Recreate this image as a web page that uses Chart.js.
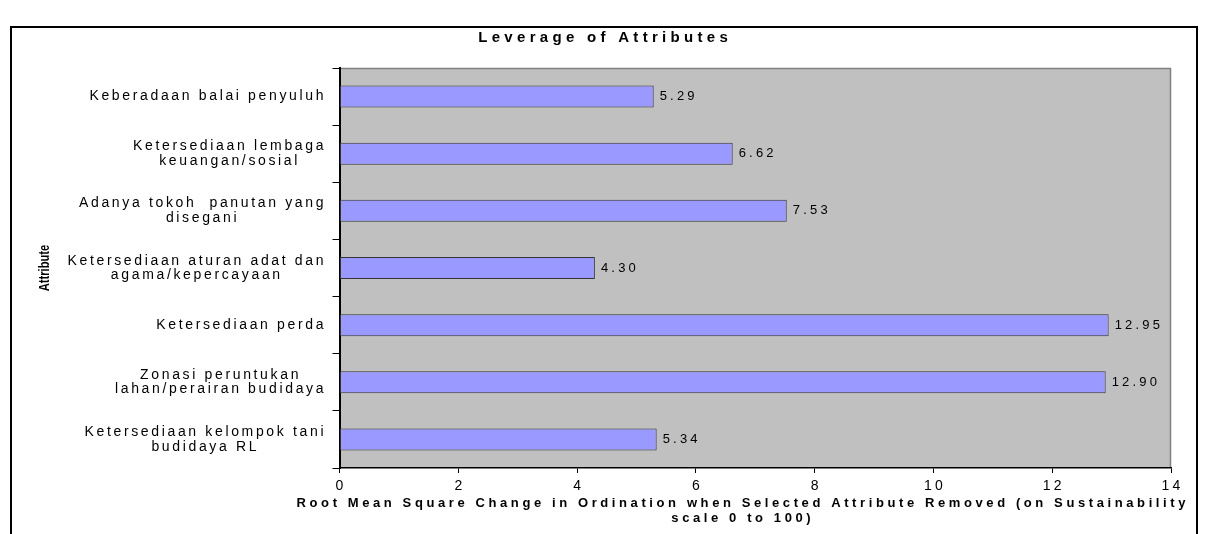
<!DOCTYPE html>
<html>
<head>
<meta charset="utf-8">
<script src="https://cdn.jsdelivr.net/npm/chart.js@4.4.0/dist/chart.umd.min.js"></script>
<style>
  html, body { margin: 0; padding: 0; background: #fff; }
  #wrap { width: 1211px; height: 534px; }
</style>
</head>
<body>
<div id="wrap"><canvas id="leverageChart" width="1211" height="534"></canvas></div>
<script>
// Chart data
const attributes = [
  ['Keberadaan balai penyuluh'],
  ['Ketersediaan lembaga', 'keuangan/sosial'],
  ['Adanya tokoh  panutan yang', 'disegani'],
  ['Ketersediaan aturan adat dan', 'agama/kepercayaan'],
  ['Ketersediaan perda'],
  ['Zonasi peruntukan', 'lahan/perairan budidaya'],
  ['Ketersediaan kelompok tani', 'budidaya RL']
];
const leverage = [5.29, 6.62, 7.53, 4.30, 12.95, 12.90, 5.34];
const xMin = 0;
const xMax = 14;
const xStep = 2;

const chartTitle = 'Leverage of Attributes';
const xTitle = ['Root Mean Square Change in Ordination when Selected Attribute Removed (on Sustainability', 'scale 0 to 100)'];
const yTitle = 'Attribute';

const FONT = '"Liberation Sans", Arial, sans-serif';

// draw text with letter spacing, trailing gap removed for alignment
function spacedText(ctx, str, x, y, align, spacing) {
  ctx.letterSpacing = spacing + 'px';
  const w = ctx.measureText(str).width - spacing;
  let sx = x;
  if (align === 'center') sx = x - w / 2;
  else if (align === 'right') sx = x - w;
  ctx.textAlign = 'left';
  ctx.fillText(str, sx, y);
  ctx.letterSpacing = '0px';
  return w;
}

// gray plot background + frame, outer chart border
const backdrop = {
  id: 'backdrop',
  beforeDraw(chart) {
    const { ctx, chartArea: a } = chart;
    ctx.save();
    ctx.fillStyle = '#C0C0C0';
    ctx.fillRect(a.left, a.top, a.right - a.left, a.bottom - a.top);
    ctx.strokeStyle = '#808080';
    ctx.lineWidth = 1.5;
    ctx.beginPath();
    ctx.moveTo(a.left, a.top + 0.5);
    ctx.lineTo(a.right - 0.5, a.top + 0.5);
    ctx.lineTo(a.right - 0.5, a.bottom);
    ctx.stroke();
    // outer border of the chart object
    ctx.strokeStyle = '#000';
    ctx.lineWidth = 2;
    ctx.strokeRect(11, 27, 1186, 530);
    ctx.restore();
  }
};

// all the texts
const texts = {
  id: 'texts',
  afterDraw(chart) {
    const { ctx, chartArea: a } = chart;
    const xs = chart.scales.x;
    const ys = chart.scales.y;
    ctx.save();
    ctx.fillStyle = '#000';
    ctx.textBaseline = 'middle';

    // title
    ctx.font = 'bold 15px ' + FONT;
    spacedText(ctx, chartTitle, 603, 38, 'center', 4.3);

    // category labels: block right aligned, lines centered inside block
    ctx.font = '14px ' + FONT;
    const sp = 2.65;
    attributes.forEach((lines, i) => {
      const cy = ys.getPixelForValue(i);
      ctx.letterSpacing = sp + 'px';
      const widths = lines.map(l => ctx.measureText(l).width - sp);
      const block = Math.max(...widths);
      const cx = a.left - 16 - block / 2;
      const lh = 14.5;
      const y0 = cy - (lines.length - 1) * lh / 2;
      lines.forEach((l, j) => spacedText(ctx, l, cx, y0 + j * lh, 'center', sp));
    });

    // x tick labels
    ctx.font = '14px ' + FONT;
    xs.ticks.forEach(t => {
      spacedText(ctx, String(t.value), xs.getPixelForValue(t.value), 486, 'center', 3.2);
    });

    // value labels at bar ends
    ctx.font = '13px ' + FONT;
    const meta = chart.getDatasetMeta(0);
    meta.data.forEach((bar, i) => {
      spacedText(ctx, leverage[i].toFixed(2), bar.x + 6, bar.y, 'left', 3.2);
    });

    // x axis title
    ctx.font = 'bold 13px ' + FONT;
    spacedText(ctx, xTitle[0], 741, 503, 'center', 3.6);
    spacedText(ctx, xTitle[1], 741, 518, 'center', 3.6);

    // y axis title, narrow bold
    ctx.translate(45, (a.top + a.bottom) / 2);
    ctx.rotate(-Math.PI / 2);
    ctx.scale(0.8, 1);
    ctx.font = 'bold 14px ' + FONT;
    ctx.textAlign = 'center';
    ctx.fillText(yTitle, 0, 0);
    ctx.restore();
  }
};

new Chart(document.getElementById('leverageChart').getContext('2d'), {
  type: 'bar',
  data: {
    labels: attributes,
    datasets: [{
      label: 'Leverage',
      data: leverage,
      backgroundColor: '#9999FF',
      borderColor: '#333333',
      borderWidth: 1,
      borderSkipped: false,
      barPercentage: 0.385,
      categoryPercentage: 1
    }]
  },
  options: {
    indexAxis: 'y',
    responsive: false,
    animation: false,
    layout: { padding: { top: 68, right: 40, left: 0, bottom: 0 } },
    plugins: {
      legend: { display: false },
      title: { display: false },
      tooltip: { enabled: false }
    },
    scales: {
      x: {
        min: xMin,
        max: xMax,
        ticks: { display: false, stepSize: xStep },
        grid: { drawOnChartArea: false, color: '#000', tickLength: 5 },
        border: { color: '#000', width: 1.5 },
        afterFit(scale) { scale.height = 66; }
      },
      y: {
        ticks: { display: false },
        grid: { drawOnChartArea: false, color: '#000', tickLength: 7, offset: true },
        border: { color: '#000', width: 2 },
        afterFit(scale) { scale.width = 339.5; }
      }
    }
  },
  plugins: [backdrop, texts]
});
</script>
</body>
</html>
